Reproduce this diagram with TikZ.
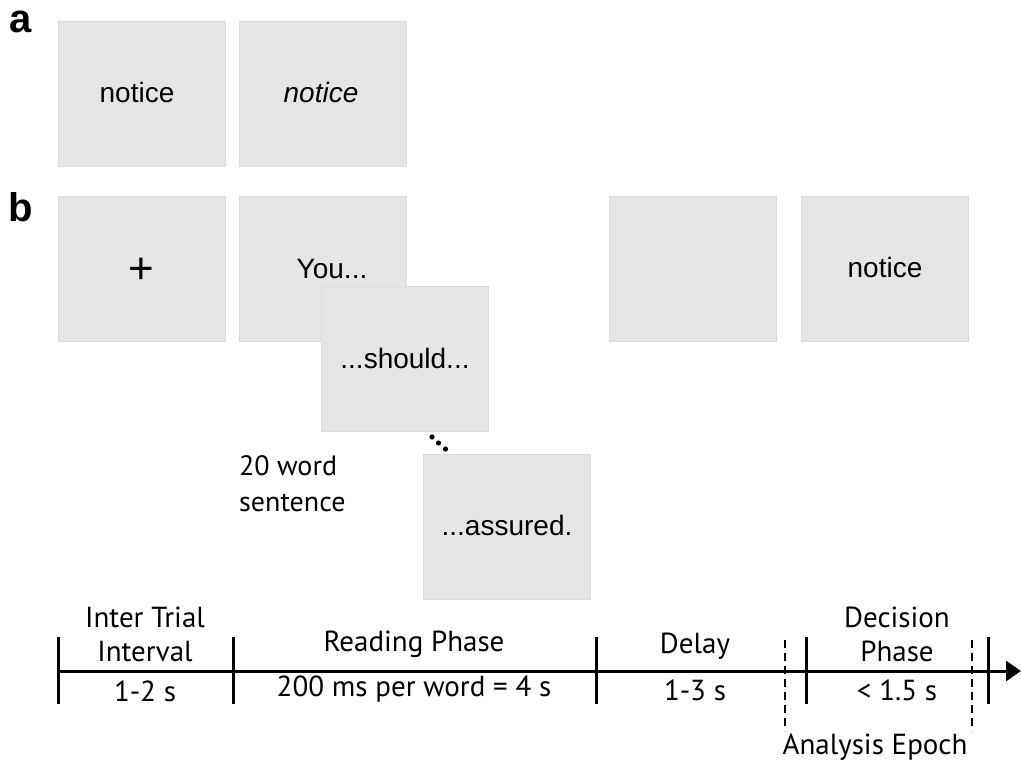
\documentclass[tikz,border=0pt]{standalone}
\usepackage{fontspec}
\setmainfont{Liberation Sans}
\newfontfamily\myriad{PT Sans}
\usetikzlibrary{arrows.meta}
\tikzset{
  screen/.style={draw=black!14, fill=black!10, line width=0.8pt, minimum width=167pt, minimum height=145pt, inner sep=0pt},
  word/.style={font=\fontsize{28}{30}\selectfont, inner sep=0pt},
  panel/.style={font=\fontsize{40}{40}\selectfont\bfseries, inner sep=0pt},
  tl/.style={font=\myriad\fontsize{29}{34}\selectfont, inner sep=0pt, align=center},
  tick/.style={line width=3pt},
  epoch/.style={line width=2pt, dash pattern=on 8pt off 5pt},
}
\begin{document}
\begin{tikzpicture}[x=1pt,y=-1pt]
\useasboundingbox (0,0) rectangle (1021,764);
% panel a
\node[panel] (la) at (21,22) {a};
\node[screen] (a1) at (142,94) {};
\node[word] (a1t) at (137,92) {notice};
\node[screen] (a2) at (322.5,94) {};
\node[word] (a2t) at (321,92) {\itshape notice};
% panel b
\node[panel] (lb) at (21,207) {b};
\node[screen] (b1) at (142,269) {};
\node[word, font=\fontsize{44}{44}\selectfont] (b1t) at (141,271) {+};
\node[screen] (b2) at (322.5,269) {};
\node[word] (b2t) at (332,269) {You...};
\node[screen] (b3) at (404.5,358.5) {};
\node[word] (b3t) at (405,358) {...should...};
\node[screen] (b4) at (506.5,526.5) {};
\node[word] (b4t) at (507,525) {...assured.};
\node[screen] (b5) at (693,269) {};
\node[screen] (b6) at (885,269) {};
\node[word] (b6t) at (885,267) {notice};
\fill (432,437) circle (2.6pt) (438.5,443) circle (2.6pt) (445.5,449) circle (2.6pt);
\node[tl, align=left, anchor=north west, font=\myriad\fontsize{28}{36}\selectfont] (sent) at (239,455) {20 word\\sentence};
% timeline
\coordinate (t0) at (58,671);
\coordinate (tend) at (1021,671);
\draw[line width=3pt, -{Triangle[length=15pt,width=20pt]}] (t0) -- (tend);
\foreach \x in {58,233,596,806,988}{
  \draw[tick] (\x,637) -- (\x,704);
}
\foreach \x in {785,972}{
  \draw[epoch] (\x,640) -- (\x,731);
}
\node[tl] (itl) at (145,634) {Inter Trial\\Interval};
\node[tl] (itv) at (145,691) {1-2 s};
\node[tl] (rp) at (414,644) {Reading Phase};
\node[tl] (rpv) at (414,689) {200 ms per word = 4 s};
\node[tl] (dl) at (695,646) {Delay};
\node[tl] (dlv) at (695,690) {1-3 s};
\node[tl] (dp) at (897,634) {Decision\\Phase};
\node[tl] (dpv) at (897,690) {< 1.5 s};
\node[tl] (ae) at (875,747) {Analysis Epoch};
\end{tikzpicture}
\end{document}
